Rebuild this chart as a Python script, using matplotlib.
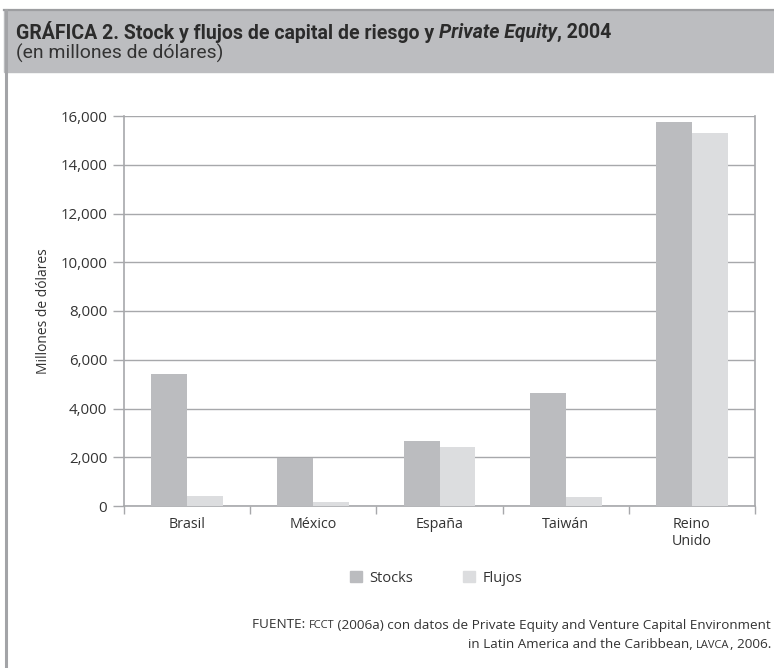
import matplotlib.pyplot as plt
import matplotlib.patches as mpatches
from matplotlib.lines import Line2D
from matplotlib.ticker import FuncFormatter, FixedLocator, NullFormatter
import numpy as np

# Stock y flujos de capital de riesgo y Private Equity, 2004 (millones de dólares)
paises = ["Brasil", "México", "España", "Taiwán", "Reino\nUnido"]
stocks = [5420, 1950, 2680, 4650, 15750]
flujos = [400, 170, 2440, 350, 15300]
series = ["Stocks", "Flujos"]

COL_STOCKS = "#bbbcbf"
COL_FLUJOS = "#dcdddf"
COL_BAND = "#bcbdc0"
COL_LINE = "#a7a8ab"
TXT = "#333333"

W, H = 774, 668
FONT = ["Open Sans", "DejaVu Sans"]
TITLE_FONT = ["Roboto", "DejaVu Sans"]

plt.rcParams["font.family"] = FONT
fig = plt.figure(figsize=(W / 100, H / 100), dpi=100)
renderer = fig.canvas.get_renderer()


def fx(px):
    return px / W


def fy(py):
    return 1 - py / H


def line_of_text(segments, x, y, **common):
    # lay pieces left to right starting at pixel x; returns the created texts and end position
    out = []
    for s, kw in segments:
        t = fig.text(fx(x), y, s, va="center", **common, **kw)
        out.append((t, x))
        x += t.get_window_extent(renderer).width
    return out, x


def right_aligned(segments, x_right, y, **common):
    out, x_end = line_of_text(segments, 0, y, **common)
    for t, x0 in out:
        t.set_x(fx(x0 + x_right - x_end))


def fitted(segments, x, y, width, size, **common):
    # scale the font so the line spans the given pixel width
    out, x_end = line_of_text(segments, x, y, fontsize=size, **common)
    size = size * width / (x_end - x)
    for t, _ in out:
        t.remove()
    line_of_text(segments, x, y, fontsize=size, **common)


# header band and frame
fig.patches.append(mpatches.Rectangle((fx(4), fy(72)), fx(770), fy(10) - fy(72),
                                      transform=fig.transFigure, color=COL_BAND, zorder=0))
fig.lines.append(Line2D([fx(4), 1], [fy(10), fy(10)], transform=fig.transFigure,
                        color="#9d9ea1", lw=1.6))
fig.lines.append(Line2D([fx(5.5), fx(5.5)], [fy(10), 0], transform=fig.transFigure,
                        color="#a3a4a7", lw=2.2))

fitted([("GRÁFICA 2. Stock y flujos de capital de riesgo y ", dict(style="normal")),
        ("Private Equity", dict(style="italic")),
        (", 2004", dict(style="normal"))],
       16, fy(32), 598, 12.5, family=TITLE_FONT, weight="bold", color="#2b2b2b")
fitted([("(en millones de dólares)", {})], 16, fy(53), 206, 12.5,
       family=TITLE_FONT, color="#333333")

ax = fig.add_axes([fx(124), fy(506), fx(755) - fx(124), fy(116) - fy(506)])
x = np.arange(len(paises))
bw = 0.285
ax.bar(x - bw / 2, stocks, bw, color=COL_STOCKS, label=series[0], zorder=3)
ax.bar(x + bw / 2, flujos, bw, color=COL_FLUJOS, label=series[1], zorder=3)

ax.set_xlim(-0.5, len(paises) - 0.5)
ax.set_ylim(0, 16000)
ax.set_yticks(np.arange(0, 16001, 2000))
ax.yaxis.set_major_formatter(FuncFormatter(lambda v, p: f"{int(v):,}"))
ax.grid(axis="y", color=COL_LINE, lw=1.0, zorder=0)
ax.set_axisbelow(True)

ax.xaxis.set_major_locator(FixedLocator(np.arange(-0.5, len(paises), 1.0)))
ax.xaxis.set_major_formatter(NullFormatter())
ax.set_xticks(x, paises, minor=True)
ax.tick_params(axis="x", which="minor", length=0, labelsize=10.3, labelcolor=TXT, pad=8)
ax.tick_params(axis="x", which="major", length=6, color=COL_LINE, width=1)
ax.tick_params(axis="y", length=8, color=COL_LINE, width=1, labelsize=10.8,
               labelcolor=TXT, pad=4)

for side in ["left", "right", "bottom"]:
    ax.spines[side].set_color(COL_LINE)
    ax.spines[side].set_linewidth(1.2)
ax.spines["top"].set_visible(False)

ax.set_ylabel("Millones de dólares", fontsize=10, color=TXT, labelpad=7)

leg = fig.legend(handles=[mpatches.Patch(color=COL_STOCKS, label=series[0]),
                          mpatches.Patch(color=COL_FLUJOS, label=series[1])],
                 loc="center", bbox_to_anchor=(fx(436), fy(578)), ncol=2, frameon=False,
                 handlelength=0.85, handleheight=0.85, handletextpad=0.5,
                 columnspacing=3.4, fontsize=10.5)
for t in leg.get_texts():
    t.set_color(TXT)

# source note, with acronyms in small capitals
reg = dict(fontsize=9.7, color=TXT)
sc = dict(fontsize=8.0, color=TXT)
right_aligned([("FUENTE: ", reg), ("FCCT", sc),
               (" (2006a) con datos de Private Equity and Venture Capital Environment", reg)],
              771, fy(625))
right_aligned([("in Latin America and the Caribbean, ", reg), ("LAVCA", sc), (", 2006.", reg)],
              771, fy(645))

fig.savefig("out.png", dpi=100)
